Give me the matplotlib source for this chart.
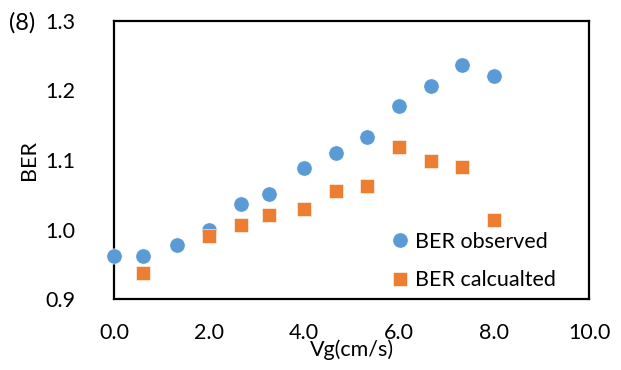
import matplotlib
matplotlib.use("Agg")
import matplotlib.pyplot as plt
from matplotlib.lines import Line2D

plt.rcParams['font.family'] = ['Lato', 'DejaVu Sans']

# Gas velocity (cm/s)
vg_observed = [0.0, 0.6, 1.33, 2.0, 2.67, 3.27, 4.0, 4.67, 5.33, 6.0, 6.67, 7.33, 8.0]
ber_observed = [0.962, 0.962, 0.978, 1.000, 1.036, 1.051, 1.088, 1.110, 1.133, 1.177, 1.206, 1.237, 1.221]

vg_calculated = [0.6, 2.0, 2.67, 3.27, 4.0, 4.67, 5.33, 6.0, 6.67, 7.33, 8.0]
ber_calculated = [0.937, 0.991, 1.006, 1.021, 1.029, 1.055, 1.063, 1.118, 1.099, 1.090, 1.014]

x_ticks = [0, 2, 4, 6, 8, 10]
y_ticks = [0.9, 1.0, 1.1, 1.2, 1.3]

blue = '#5B9BD5'
orange = '#ED7D31'
fs = 15.5

fig = plt.figure(figsize=(6.21, 3.70), dpi=100)
ax = fig.add_axes([114 / 621, 1 - 299 / 370, (589 - 114) / 621, (299 - 21) / 370])

ax.plot(vg_observed, ber_observed, linestyle='none', marker='o', markersize=11,
        color=blue, markeredgecolor='white', markeredgewidth=0.4, clip_on=False, zorder=3)
ax.plot(vg_calculated, ber_calculated, linestyle='none', marker='s', markersize=10.5,
        color=orange, markeredgecolor='white', markeredgewidth=0.4, clip_on=False, zorder=3)

ax.set_xlim(0, 10)
ax.set_ylim(0.9, 1.3)
ax.set_xticks(x_ticks)
ax.set_xticklabels([f'{v:.1f}' for v in x_ticks])
ax.set_yticks(y_ticks)
ax.set_yticklabels([f'{v:.1f}' for v in y_ticks])
ax.tick_params(length=0, labelsize=fs, colors='black')
ax.tick_params(axis='x', pad=17)
ax.tick_params(axis='y', pad=28)

for s in ax.spines.values():
    s.set_linewidth(1.6)
    s.set_color('black')

ax.set_xlabel('Vg(cm/s)', fontsize=fs, labelpad=-2)
ax.set_ylabel('BER', fontsize=fs, labelpad=4)

fig.text(9 / 621, 1 - 23 / 370, '(8)', fontsize=17, ha='left', va='center')

handles = [
    Line2D([], [], linestyle='none', marker='o', markersize=11, color=blue,
           markeredgecolor='white', markeredgewidth=0.4),
    Line2D([], [], linestyle='none', marker='s', markersize=10.5, color=orange,
           markeredgecolor='white', markeredgewidth=0.4),
]
ax.legend(handles, ['BER observed', 'BER calcualted'], loc='lower left',
          bbox_to_anchor=(0.547, -0.015), frameon=False, fontsize=fs,
          handletextpad=0.1, labelspacing=0.85, handlelength=1.2, borderaxespad=0.2)

fig.savefig('out.png', dpi=100)
